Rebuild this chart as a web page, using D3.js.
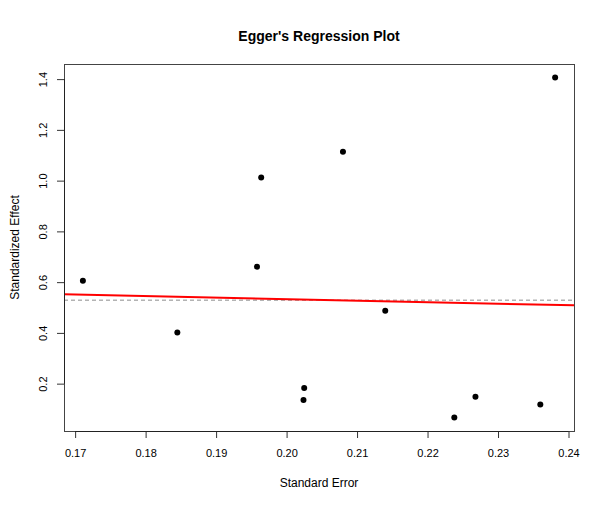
<!DOCTYPE html>
<html>
<head>
<meta charset="utf-8">
<script src="https://cdn.jsdelivr.net/npm/d3@7"></script>
<style>
  body { margin: 0; background: #fff; }
  text { font-family: "Liberation Sans", Arial, sans-serif; fill: #000; }
</style>
</head>
<body>
<div id="chart"></div>
<script>
// Data
const standardError = [0.1711, 0.1845, 0.1958, 0.1964, 0.2024, 0.2025, 0.2080, 0.2140, 0.2238, 0.2268, 0.2360, 0.2381];
const standardizedEffect = [0.605, 0.402, 0.661, 1.012, 0.136, 0.183, 1.114, 0.487, 0.067, 0.148, 0.118, 1.406];
const xTicks = [0.17, 0.18, 0.19, 0.20, 0.21, 0.22, 0.23, 0.24];
const yTicks = [0.2, 0.4, 0.6, 0.8, 1.0, 1.2, 1.4];
const fitLine = [0.653, -0.60];   // intercept, slope (red line)
const meanEffect = [0.529];        // dashed reference line

const width = 610, height = 510;
const margin = { top: 64, right: 36, bottom: 79, left: 64 };
const innerW = width - margin.left - margin.right,
      innerH = height - margin.top - margin.bottom;

const svg = d3.select("#chart").append("svg")
    .attr("width", width)
    .attr("height", height);

const g = svg.append("g")
    .attr("transform", "translate(" + margin.left + "," + margin.top + ")");

// R style 4% padding around the data range
const xExt = d3.extent(standardError), yExt = d3.extent(standardizedEffect);
const xPad = (xExt[1] - xExt[0]) * 0.04, yPad = (yExt[1] - yExt[0]) * 0.04;

const x = d3.scaleLinear()
    .domain([xExt[0] - xPad, xExt[1] + xPad])
    .range([0, innerW]);
const y = d3.scaleLinear()
    .domain([yExt[0] - yPad, yExt[1] + yPad])
    .range([innerH, 0]);

// clip for lines
g.append("clipPath").attr("id", "clip")
  .append("rect").attr("width", innerW).attr("height", innerH);

// dashed mean line
g.append("line")
    .attr("clip-path", "url(#clip)")
    .attr("x1", 0).attr("x2", innerW)
    .attr("y1", y(meanEffect[0])).attr("y2", y(meanEffect[0]))
    .attr("stroke", "#8c8c8c")
    .attr("stroke-width", 1)
    .attr("stroke-dasharray", "4,3");

// red regression line
const xd = x.domain();
g.append("line")
    .attr("clip-path", "url(#clip)")
    .attr("x1", x(xd[0])).attr("x2", x(xd[1]))
    .attr("y1", y(fitLine[0] + fitLine[1] * xd[0]))
    .attr("y2", y(fitLine[0] + fitLine[1] * xd[1]))
    .attr("stroke", "#ff0000")
    .attr("stroke-width", 2);

// points
g.selectAll("circle")
    .data(standardError.map((s, i) => [s, standardizedEffect[i]]))
    .enter()
    .append("circle")
      .attr("cx", d => x(d[0]))
      .attr("cy", d => y(d[1]))
      .attr("r", 3)
      .attr("fill", "#000");

// box
g.append("rect")
    .attr("x", 0.5).attr("y", 0.5)
    .attr("width", innerW).attr("height", innerH)
    .attr("fill", "none")
    .attr("stroke", "#444")
    .attr("stroke-width", 1);

// x axis (R style: line spans first to last tick)
const xAxis = g.append("g")
    .attr("transform", "translate(0," + innerH + ")")
    .call(d3.axisBottom(x).tickValues(xTicks).tickFormat(d3.format(".2f")).tickSize(7).tickSizeOuter(0));
xAxis.select(".domain").remove();
xAxis.append("line")
    .attr("x1", x(xTicks[0])).attr("x2", x(xTicks[xTicks.length - 1]))
    .attr("y1", 0.5).attr("y2", 0.5)
    .attr("stroke", "#222");
xAxis.selectAll(".tick line").attr("stroke", "#333");
xAxis.selectAll(".tick text")
    .attr("dy", null)
    .attr("y", 26)
    .style("font-family", "Liberation Sans, Arial, sans-serif")
    .style("font-size", "11px")
    .attr("fill", "#000");

// y axis with rotated labels
const yAxis = g.append("g")
    .call(d3.axisLeft(y).tickValues(yTicks).tickFormat(d3.format(".1f")).tickSize(7).tickSizeOuter(0));
yAxis.select(".domain").remove();
yAxis.append("line")
    .attr("x1", 0.5).attr("x2", 0.5)
    .attr("y1", y(yTicks[0])).attr("y2", y(yTicks[yTicks.length - 1]))
    .attr("stroke", "#222");
yAxis.selectAll(".tick line").attr("stroke", "#333");
yAxis.selectAll(".tick text")
    .attr("x", null).attr("dy", null)
    .attr("text-anchor", "middle")
    .attr("transform", "translate(-17.5,0) rotate(-90)")
    .style("font-family", "Liberation Sans, Arial, sans-serif")
    .style("font-size", "11px")
    .attr("fill", "#000");

// title
svg.append("text")
    .attr("x", margin.left + innerW / 2)
    .attr("y", 41)
    .attr("text-anchor", "middle")
    .style("font-size", "14px")
    .style("font-weight", "bold")
    .text("Egger's Regression Plot");

// axis titles
svg.append("text")
    .attr("x", margin.left + innerW / 2)
    .attr("y", 486.5)
    .attr("text-anchor", "middle")
    .style("font-size", "12px")
    .text("Standard Error");

svg.append("text")
    .attr("transform", "translate(19," + (margin.top + innerH / 2) + ") rotate(-90)")
    .attr("text-anchor", "middle")
    .style("font-size", "12px")
    .text("Standardized Effect");
</script>
</body>
</html>
